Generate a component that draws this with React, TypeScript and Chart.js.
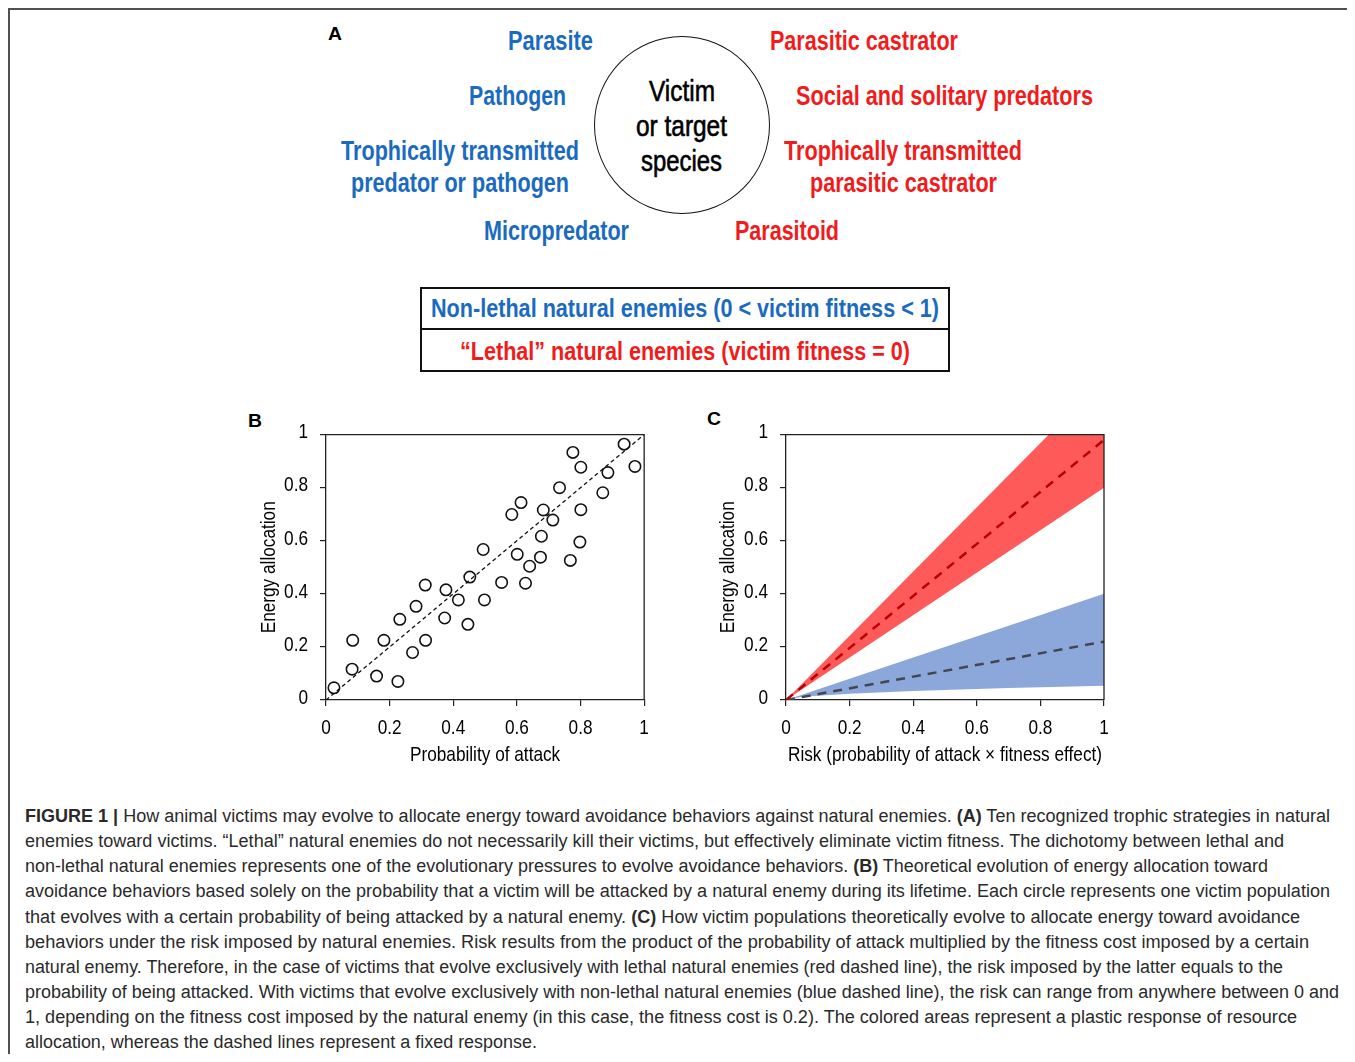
import React, { useEffect, useLayoutEffect, useRef } from "react";
import { Chart, registerables } from "chart.js";

Chart.register(...registerables);

// ---------- DATA ----------
const tickLabels = ["0", "0.2", "0.4", "0.6", "0.8", "1"];

// Panel B: each circle = one victim population
const attackProb = [
  0.025, 0.084, 0.082, 0.159, 0.182, 0.226, 0.232, 0.272, 0.283, 0.312,
  0.313, 0.377, 0.373, 0.416, 0.446, 0.452, 0.494, 0.498, 0.552, 0.584,
  0.613, 0.601, 0.627, 0.64, 0.674, 0.677, 0.683, 0.713, 0.734, 0.768,
  0.776, 0.801, 0.801, 0.798, 0.87, 0.886, 0.937, 0.971,
];
const energyAlloc = [
  0.046, 0.225, 0.116, 0.09, 0.225, 0.07, 0.304, 0.179, 0.353, 0.433,
  0.225, 0.415, 0.309, 0.377, 0.285, 0.463, 0.567, 0.377, 0.443, 0.699,
  0.744, 0.549, 0.44, 0.504, 0.538, 0.617, 0.716, 0.678, 0.8, 0.526,
  0.933, 0.877, 0.717, 0.595, 0.781, 0.857, 0.964, 0.88,
];
const diagX = [0, 1];
const diagY = [0, 1];

// Panel C
const riskX = [0, 1];
const lethalFixed = [0, 0.98];
const lethalUpper = [0, 1.21];
const lethalLower = [0, 0.8];
const nonLethalFixed = [0, 0.22];
const nonLethalBandX = [0, 0.05, 0.2, 0.4, 0.7, 1];
const nonLethalUpper = [0, 0.02, 0.08, 0.16, 0.28, 0.4];
const nonLethalLower = [0, 0.012, 0.024, 0.034, 0.045, 0.054];

const nonLethalEnemies = [
  "Parasite",
  "Pathogen",
  "Trophically transmitted",
  "predator or pathogen",
  "Micropredator",
];
const lethalEnemies = [
  "Parasitic castrator",
  "Social and solitary predators",
  "Trophically transmitted",
  "parasitic castrator",
  "Parasitoid",
];

const captionLines: React.ReactNode[] = [
  <><b>FIGURE 1 |</b> How animal victims may evolve to allocate energy toward avoidance behaviors against natural enemies. <b>(A)</b> Ten recognized trophic strategies in natural</>,
  <>enemies toward victims. “Lethal” natural enemies do not necessarily kill their victims, but effectively eliminate victim fitness. The dichotomy between lethal and</>,
  <>non-lethal natural enemies represents one of the evolutionary pressures to evolve avoidance behaviors. <b>(B)</b> Theoretical evolution of energy allocation toward</>,
  <>avoidance behaviors based solely on the probability that a victim will be attacked by a natural enemy during its lifetime. Each circle represents one victim population</>,
  <>that evolves with a certain probability of being attacked by a natural enemy. <b>(C)</b> How victim populations theoretically evolve to allocate energy toward avoidance</>,
  <>behaviors under the risk imposed by natural enemies. Risk results from the product of the probability of attack multiplied by the fitness cost imposed by a certain</>,
  <>natural enemy. Therefore, in the case of victims that evolve exclusively with lethal natural enemies (red dashed line), the risk imposed by the latter equals to the</>,
  <>probability of being attacked. With victims that evolve exclusively with non-lethal natural enemies (blue dashed line), the risk can range from anywhere between 0 and</>,
  <>1, depending on the fitness cost imposed by the natural enemy (in this case, the fitness cost is 0.2). The colored areas represent a plastic response of resource</>,
  <>allocation, whereas the dashed lines represent a fixed response.</>,
];

// ---------- STYLE / LAYOUT ----------
const SANS = "'Liberation Sans', Arial, sans-serif";
const BLUE = "#1A6BC0";
const RED = "#F21B1B";
const OFF = 8;
const NARROW_FACTOR = 0.82;

const captionWidths = [1305, 1259, 1243, 1305, 1275, 1284, 1258, 1314, 1272, 512];
const blueLayout = [
  { x: 508, cy: 41, w: 85 },
  { x: 469, cy: 96, w: 97 },
  { x: 341, cy: 151, w: 238 },
  { x: 351, cy: 183, w: 218 },
  { x: 484, cy: 231, w: 145 },
];
const redLayout = [
  { x: 770, cy: 41, w: 188 },
  { x: 796, cy: 96, w: 297 },
  { x: 784, cy: 151, w: 238 },
  { x: 810, cy: 183, w: 187 },
  { x: 735, cy: 231, w: 104 },
];

type FitProps = {
  x: number; cy: number; w: number; size: number; weight?: number;
  color: string; family: string; children: React.ReactNode; k?: number; stroke?: string;
};
function Fit({ x, cy, w, size, weight = 700, color, family, children, k = 0.6, stroke }: FitProps) {
  const ref = useRef<HTMLDivElement>(null);
  useLayoutEffect(() => {
    const el = ref.current;
    if (!el) return;
    el.style.transform = "none";
    const nat = el.getBoundingClientRect().width;
    if (nat > 0) el.style.transform = `scaleX(${w / nat})`;
  }, [w]);
  const style: any = {
    position: "absolute",
    left: x - OFF,
    top: cy - OFF - size * k,
    fontSize: size,
    lineHeight: 1.2,
    fontWeight: weight,
    color,
    fontFamily: family,
    whiteSpace: "nowrap",
    transformOrigin: "left top",
  };
  if (stroke) style.WebkitTextStroke = stroke;
  return (
    <div ref={ref} style={style}>
      {children}
    </div>
  );
}

// draws the top and right sides of the axes box
const boxPlugin = {
  id: "boxPlugin",
  afterDraw(chart: any) {
    const { ctx, chartArea } = chart;
    const { left, right, top, bottom } = chartArea;
    ctx.save();
    ctx.strokeStyle = "#222";
    ctx.lineWidth = 1.3;
    ctx.beginPath();
    ctx.moveTo(left, top);
    ctx.lineTo(right, top);
    ctx.lineTo(right, bottom);
    ctx.stroke();
    ctx.restore();
  },
};

// renders all chart text horizontally condensed (Arial Narrow look)
const narrowTextPlugin = {
  id: "narrowText",
  beforeInit(chart: any) {
    const ctx = chart.ctx;
    if (ctx.__narrow) return;
    ctx.__narrow = true;
    const orig = ctx.fillText.bind(ctx);
    ctx.fillText = (t: string, x: number, y: number, mw?: number) => {
      const w = ctx.measureText(t).width * NARROW_FACTOR;
      return orig(t, x, y, mw !== undefined ? Math.min(mw, w) : w);
    };
  },
};

function axisOpts(title: string, axis: "x" | "y", titlePad: number, size: number) {
  const font = { family: SANS, size: 21 };
  return {
    type: "linear" as const,
    min: 0,
    max: 1,
    position: axis === "x" ? ("bottom" as const) : ("left" as const),
    ticks: {
      stepSize: 0.2,
      color: "#000",
      font,
      padding: axis === "x" ? 10 : 12,
      labelOffset: axis === "y" ? -2 : 0,
      maxRotation: 0,
      autoSkip: false,
      callback: (_v: any, i: number) => tickLabels[i],
    },
    grid: {
      display: true,
      drawOnChartArea: false,
      drawTicks: true,
      tickLength: 6,
      color: "#222",
      lineWidth: 1.2,
    },
    border: { display: true, color: "#222", width: 1.3 },
    title: {
      display: true,
      text: title,
      color: "#000",
      font,
      padding: axis === "x" ? { top: 0, bottom: titlePad } : { top: titlePad, bottom: 0 },
    },
    afterFit: (s: any) => {
      if (axis === "x") s.height = size;
      else s.width = size;
    },
  };
}

function PanelB() {
  const ref = useRef<HTMLCanvasElement>(null);
  useEffect(() => {
    const chart = new Chart(ref.current!, {
      type: "scatter",
      data: {
        datasets: [
          {
            data: attackProb.map((x, i) => ({ x, y: energyAlloc[i] })),
            pointRadius: 5.7,
            pointBorderColor: "#111",
            pointBackgroundColor: "rgba(0,0,0,0)",
            pointBorderWidth: 1.6,
            showLine: false,
          },
          {
            data: diagX.map((x, i) => ({ x, y: diagY[i] })),
            showLine: true,
            borderColor: "#111",
            borderWidth: 1.3,
            borderDash: [4, 3],
            pointRadius: 0,
            fill: false,
          },
        ],
      },
      options: {
        responsive: false,
        animation: false,
        layout: { padding: { left: 0, top: 21, right: 15, bottom: 0 } },
        plugins: { legend: { display: false }, tooltip: { enabled: false } },
        scales: {
          x: axisOpts("Probability of attack", "x", 12, 80) as any,
          y: axisOpts("Energy allocation", "y", 16.5, 86) as any,
        },
      },
      plugins: [narrowTextPlugin, boxPlugin],
    });
    return () => chart.destroy();
  }, []);
  return (
    <canvas
      ref={ref}
      width={420}
      height={370}
      style={{ position: "absolute", left: 240 - OFF, top: 410 - OFF, width: 420, height: 370 }}
    />
  );
}

function PanelC() {
  const ref = useRef<HTMLCanvasElement>(null);
  useEffect(() => {
    const pts = (xs: number[], ys: number[]) => xs.map((x, i) => ({ x, y: ys[i] }));
    const chart = new Chart(ref.current!, {
      type: "scatter",
      data: {
        datasets: [
          {
            data: pts(riskX, lethalFixed),
            showLine: true,
            borderColor: "#B80000",
            borderWidth: 2.5,
            borderDash: [9, 7],
            pointRadius: 0,
            fill: false,
            order: 0,
          },
          {
            data: pts(riskX, nonLethalFixed),
            showLine: true,
            borderColor: "#454550",
            borderWidth: 2.5,
            borderDash: [9, 7],
            pointRadius: 0,
            fill: false,
            order: 0,
          },
          {
            data: pts(riskX, lethalUpper),
            showLine: true,
            borderWidth: 0,
            borderColor: "rgba(0,0,0,0)",
            backgroundColor: "#FF5A5A",
            pointRadius: 0,
            fill: "+1",
            order: 1,
          },
          {
            data: pts(riskX, lethalLower),
            showLine: true,
            borderWidth: 0,
            borderColor: "rgba(0,0,0,0)",
            pointRadius: 0,
            fill: false,
            order: 1,
          },
          {
            data: pts(nonLethalBandX, nonLethalUpper),
            showLine: true,
            borderWidth: 0,
            borderColor: "rgba(0,0,0,0)",
            backgroundColor: "#8CA8DB",
            pointRadius: 0,
            fill: "+1",
            order: 1,
          },
          {
            data: pts(nonLethalBandX, nonLethalLower),
            showLine: true,
            borderWidth: 0,
            borderColor: "rgba(0,0,0,0)",
            pointRadius: 0,
            fill: false,
            order: 1,
          },
        ],
      },
      options: {
        responsive: false,
        animation: false,
        layout: { padding: { left: 0, top: 20, right: 16, bottom: 0 } },
        plugins: { legend: { display: false }, tooltip: { enabled: false } },
        scales: {
          x: axisOpts("Risk (probability of attack × fitness effect)", "x", 12, 80) as any,
          y: axisOpts("Energy allocation", "y", 15.7, 86) as any,
        },
      },
      plugins: [narrowTextPlugin, boxPlugin],
    });
    return () => chart.destroy();
  }, []);
  return (
    <canvas
      ref={ref}
      width={420}
      height={370}
      style={{ position: "absolute", left: 700 - OFF, top: 410 - OFF, width: 420, height: 370 }}
    />
  );
}

export default function App() {
  useEffect(() => {
    document.documentElement.style.overflow = "hidden";
    document.body.style.overflow = "hidden";
  }, []);
  return (
    <div style={{ position: "relative", width: 1347, height: 1046, background: "#fff" }}>
      {/* frame */}
      <div style={{ position: "absolute", left: 0, top: 0, width: 1347, height: 2, background: "#505050" }} />
      <div style={{ position: "absolute", left: 0, top: 0, width: 2, height: 1054, background: "#505050" }} />

      {/* Panel A */}
      <Fit x={328} cy={34} w={14} size={19} color="#000" family={SANS}>A</Fit>
      {nonLethalEnemies.map((t, i) => (
        <Fit key={"b" + i} x={blueLayout[i].x} cy={blueLayout[i].cy} w={blueLayout[i].w} size={27} color={BLUE} family={SANS}>
          {t}
        </Fit>
      ))}
      {lethalEnemies.map((t, i) => (
        <Fit key={"r" + i} x={redLayout[i].x} cy={redLayout[i].cy} w={redLayout[i].w} size={27} color={RED} family={SANS}>
          {t}
        </Fit>
      ))}
      <div
        style={{
          position: "absolute",
          left: 594 - OFF,
          top: 36 - OFF,
          width: 174,
          height: 176,
          border: "1.5px solid #111",
          borderRadius: "50%",
        }}
      />
      <Fit x={649} cy={91} w={66} size={29} weight={400} color="#000" family={SANS} stroke="0.6px #000">Victim</Fit>
      <Fit x={636} cy={126} w={91} size={29} weight={400} color="#000" family={SANS} stroke="0.6px #000">or target</Fit>
      <Fit x={641} cy={161} w={81} size={29} weight={400} color="#000" family={SANS} stroke="0.6px #000">species</Fit>

      {/* two-row box */}
      <div
        style={{
          position: "absolute",
          left: 420 - OFF,
          top: 287 - OFF,
          width: 526,
          height: 81,
          border: "2px solid #111",
        }}
      />
      <div style={{ position: "absolute", left: 420 - OFF, top: 328 - OFF, width: 530, height: 2, background: "#111" }} />
      <Fit x={431} cy={309} w={508} size={26} color={BLUE} family={SANS}>
        Non-lethal natural enemies (0 &lt; victim fitness &lt; 1)
      </Fit>
      <Fit x={460} cy={352} w={450} size={26} color={RED} family={SANS}>
        “Lethal” natural enemies (victim fitness = 0)
      </Fit>

      {/* Panel letters */}
      <Fit x={248} cy={421} w={14} size={19} color="#000" family={SANS}>B</Fit>
      <Fit x={707} cy={419} w={14} size={19} color="#000" family={SANS}>C</Fit>

      <PanelB />
      <PanelC />

      {/* caption */}
      {captionLines.map((l, i) => (
        <Fit
          key={"c" + i}
          x={25}
          cy={818 + i * 25.1}
          w={captionWidths[i]}
          size={18}
          weight={400}
          color="#2a2a2a"
          family={SANS}
          k={0.66}
        >
          {l}
        </Fit>
      ))}
    </div>
  );
}
